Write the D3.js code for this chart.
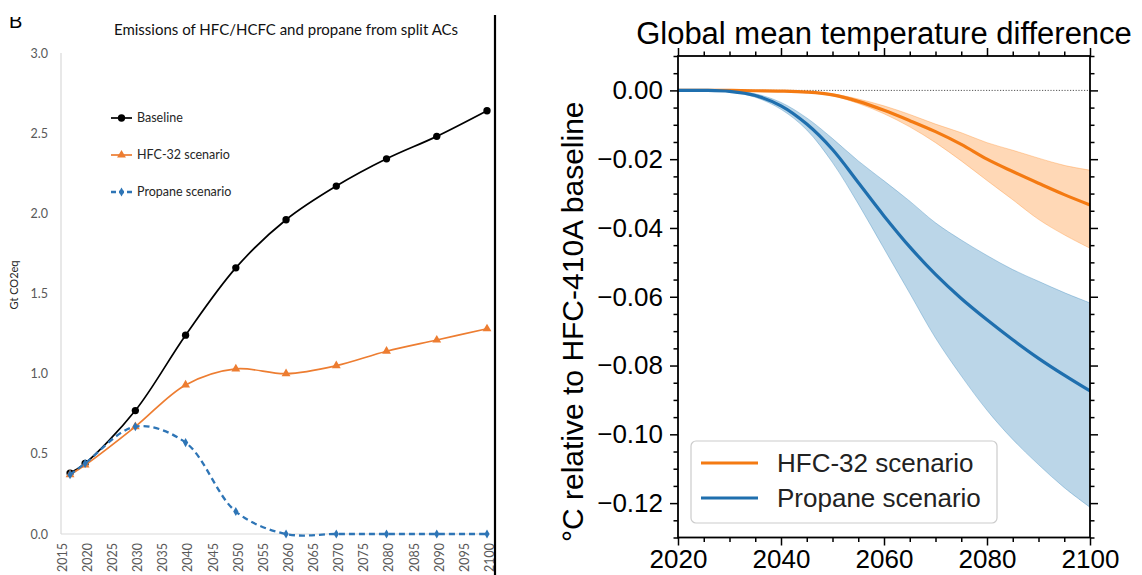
<!DOCTYPE html>
<html><head><meta charset="utf-8">
<script src="https://cdn.jsdelivr.net/npm/d3@7"></script>
<style>body{margin:0;background:#fff}svg{display:block}</style>
</head><body>
<svg id="c" width="1142" height="575"></svg>
<script>
// ---------- Left panel data (Gt CO2eq) ----------
const emisYears = [2017, 2020, 2030, 2040, 2050, 2060, 2070, 2080, 2090, 2100];
const baseline  = [0.38, 0.44, 0.77, 1.24, 1.66, 1.96, 2.17, 2.34, 2.48, 2.64];
const hfc32     = [0.37, 0.43, 0.67, 0.93, 1.03, 1.00, 1.05, 1.14, 1.21, 1.28];
const propane   = [0.37, 0.44, 0.67, 0.57, 0.14, 0.00, 0.00, 0.00, 0.00, 0.00];
const emisXTicks = [2015,2020,2025,2030,2035,2040,2045,2050,2055,2060,2065,2070,2075,2080,2085,2090,2095,2100];
const emisYTicks = [0, 0.5, 1.0, 1.5, 2.0, 2.5, 3.0];
const emisSeries = ["Baseline", "HFC-32 scenario", "Propane scenario"];

// ---------- Right panel data (°C relative to HFC-410A baseline) ----------
const tempYears   = [2020,2025,2030,2035,2040,2045,2050,2055,2060,2065,2070,2075,2080,2085,2090,2095,2100];
const hfcMean     = [0, 0, 0, -0.0001, -0.0002, -0.0005, -0.0013, -0.0032, -0.0058, -0.0088, -0.0120, -0.0157, -0.0200, -0.0236, -0.0270, -0.0303, -0.0333];
const hfcHi       = [0, 0, 0, -0.0001, -0.0002, -0.0004, -0.0010, -0.0025, -0.0045, -0.0070, -0.0098, -0.0123, -0.0152, -0.0174, -0.0197, -0.0218, -0.0232];
const hfcLo       = [0, 0, 0, -0.0001, -0.0003, -0.0006, -0.0016, -0.0038, -0.0068, -0.0106, -0.0152, -0.0205, -0.0262, -0.0318, -0.0375, -0.0420, -0.0459];
const propMean    = [0, 0, -0.0003, -0.0015, -0.0045, -0.0098, -0.0172, -0.0268, -0.0365, -0.0455, -0.0535, -0.0605, -0.0667, -0.0725, -0.0779, -0.0828, -0.0874];
const propHi      = [0, 0, -0.0002, -0.0010, -0.0035, -0.0080, -0.0140, -0.0205, -0.0263, -0.0322, -0.0385, -0.0435, -0.0480, -0.0521, -0.0555, -0.0588, -0.0618];
const propLo      = [0, 0, -0.0004, -0.0020, -0.0055, -0.0115, -0.0210, -0.0330, -0.0460, -0.0590, -0.0720, -0.0830, -0.0930, -0.1015, -0.1088, -0.1155, -0.1212];
const tempXTicks  = [2020, 2040, 2060, 2080, 2100];
const tempYTicks  = [0.00, -0.02, -0.04, -0.06, -0.08, -0.10, -0.12];
const tempSeries  = ["HFC-32 scenario", "Propane scenario"];

const svg = d3.select("#c");
const leftFont = "Lato, 'Open Sans', sans-serif";
const rightFont = "'Liberation Sans', Arial, sans-serif";

// ================= LEFT PANEL =================
const xL = d3.scaleLinear().domain([2015, 2100]).range([60, 487]);
const yL = d3.scaleLinear().domain([0, 3]).range([534, 53]);

// Panel letter (top clipped as in the source)
svg.append("defs").append("clipPath").attr("id","bclip")
  .append("rect").attr("x",0).attr("y",17).attr("width",60).attr("height",30);
svg.append("text").attr("x",9).attr("y",28).attr("clip-path","url(#bclip)")
  .attr("font-family","'Liberation Sans', Arial, sans-serif").attr("font-size",20)
  .attr("fill","#000").text("B");

svg.append("text").attr("x",286).attr("y",35).attr("text-anchor","middle")
  .attr("font-family",leftFont).attr("font-size",15).attr("fill","#111")
  .text("Emissions of HFC/HCFC and propane from split ACs");

// axis lines
svg.append("line").attr("x1",xL(2015)+1).attr("x2",xL(2015)+1).attr("y1",yL(3)).attr("y2",yL(0))
  .attr("stroke","#d9d9d9").attr("stroke-width",1.2);
svg.append("line").attr("x1",xL(2015)+1).attr("x2",xL(2100)+1).attr("y1",yL(0)).attr("y2",yL(0))
  .attr("stroke","#d9d9d9").attr("stroke-width",1.2);

const gyL = svg.append("g").attr("transform",`translate(${xL(2015)+1},0)`)
  .call(d3.axisLeft(yL).tickValues(emisYTicks).tickSize(0).tickPadding(13).tickFormat(d3.format(".1f")));
gyL.select(".domain").remove();
gyL.selectAll("text").attr("font-family",leftFont).attr("font-size",12.5).attr("fill","#595959");

const gxL = svg.append("g").attr("transform",`translate(0,${yL(0)})`)
  .call(d3.axisBottom(xL).tickValues(emisXTicks).tickSize(0).tickFormat(d3.format("d")));
gxL.select(".domain").remove();
gxL.selectAll("text").attr("transform","rotate(-90)").attr("text-anchor","end")
  .attr("x",-9).attr("y",2).attr("dy","0.35em")
  .attr("font-family",leftFont).attr("font-size",12.5).attr("fill","#595959");

svg.append("text").attr("transform","translate(18,285) rotate(-90)").attr("text-anchor","middle")
  .attr("font-family",leftFont).attr("font-size",11).attr("fill","#262626").text("Gt CO2eq");

function pts(vals){ return emisYears.map((y,i)=>({x:y, v:vals[i]})); }
const lineL = d3.line().x(d=>xL(d.x)).y(d=>yL(d.v)).curve(d3.curveCatmullRom.alpha(0.5));

const cBlack = "#000000", cOrange = "#ED7D31", cBlue = "#2E75B6";
const emisStyles = [
  {vals: baseline, color: cBlack, width: 1.7, dash: null, sym: d3.symbolCircle, size: 42},
  {vals: hfc32, color: cOrange, width: 1.7, dash: null, sym: d3.symbolTriangle, size: 34},
  {vals: propane, color: cBlue, width: 2.3, dash: "6,4", sym: d3.symbolDiamond, size: 24}
];
emisStyles.forEach(s=>{
  svg.append("path").attr("d", lineL(pts(s.vals))).attr("fill","none")
    .attr("stroke", s.color).attr("stroke-width", s.width).attr("stroke-dasharray", s.dash);
  svg.append("g").selectAll("path").data(pts(s.vals)).join("path")
    .attr("d", d3.symbol(s.sym, s.size)).attr("fill", s.color)
    .attr("transform", d=>`translate(${xL(d.x)},${yL(d.v)})`);
});

// legend
emisSeries.forEach((name,i)=>{
  const s = emisStyles[i], y = 118 + i*37;
  svg.append("line").attr("x1",111).attr("x2",132).attr("y1",y).attr("y2",y)
    .attr("stroke",s.color).attr("stroke-width",s.width).attr("stroke-dasharray", s.dash ? "5,3" : null);
  svg.append("path").attr("d", d3.symbol(s.sym, s.size)).attr("fill",s.color)
    .attr("transform",`translate(121.5,${y})`);
  svg.append("text").attr("x",137).attr("y",y).attr("dy","0.35em")
    .attr("font-family",leftFont).attr("font-size",12.5).attr("fill","#262626").text(name);
});

// separator
svg.append("line").attr("x1",495).attr("x2",495).attr("y1",15).attr("y2",575)
  .attr("stroke","#000").attr("stroke-width",2.2);

// ================= RIGHT PANEL =================
const L = 678, R = 1090, T = 56, B = 537.5;
const xR = d3.scaleLinear().domain([2020, 2100]).range([L, R]);
const yR = d3.scaleLinear().domain([-0.13, 0.01]).range([B, T]);

svg.append("text").attr("x",(L+R)/2).attr("y",44).attr("text-anchor","middle")
  .attr("font-family",rightFont).attr("font-size",31).attr("fill","#000")
  .text("Global mean temperature difference");

svg.append("defs").append("clipPath").attr("id","pclip")
  .append("rect").attr("x",L).attr("y",T).attr("width",R-L).attr("height",B-T);
const plot = svg.append("g").attr("clip-path","url(#pclip)");

// zero dotted line
plot.append("line").attr("x1",L).attr("x2",R).attr("y1",yR(0)).attr("y2",yR(0))
  .attr("stroke","#555").attr("stroke-width",1).attr("stroke-dasharray","1.2,1.6");

const area = d3.area().x(d=>xR(d.x)).y0(d=>yR(d.lo)).y1(d=>yR(d.hi)).curve(d3.curveCatmullRom.alpha(0.5));
const lineR = d3.line().x(d=>xR(d.x)).y(d=>yR(d.v)).curve(d3.curveCatmullRom.alpha(0.5));
const cO = "#ff7f0e", cB = "#1f77b4";
const tempStyles = [
  {mean: hfcMean, lo: hfcLo, hi: hfcHi, color: cO, line: "#f47a12"},
  {mean: propMean, lo: propLo, hi: propHi, color: cB, line: "#1f6fae"}
];
tempStyles.forEach(s=>{
  const d = tempYears.map((y,i)=>({x:y, lo:s.lo[i], hi:s.hi[i], v:s.mean[i]}));
  plot.append("path").attr("d", area(d)).attr("fill", s.color).attr("fill-opacity",0.3)
    .attr("stroke", s.color).attr("stroke-opacity",0.3).attr("stroke-width",1);
});
tempStyles.forEach(s=>{
  const d = tempYears.map((y,i)=>({x:y, v:s.mean[i]}));
  plot.append("path").attr("d", lineR(d)).attr("fill","none")
    .attr("stroke", s.line).attr("stroke-width",3.2);
});

// frame
svg.append("rect").attr("x",L).attr("y",T).attr("width",R-L).attr("height",B-T)
  .attr("fill","none").attr("stroke","#000").attr("stroke-width",1.8);

const yMinor = d3.range(-0.13, 0.0101, 0.005).filter(v => Math.abs(Math.round(v*1000)) % 20 !== 0);
const xMinor = d3.range(2020, 2101, 5).filter(v => v % 20 !== 0);

function styleAxis(g, labels){
  g.select(".domain").remove();
  g.selectAll("line").attr("stroke","#000").attr("stroke-width",1.5);
  g.selectAll("text").attr("font-family",rightFont).attr("font-size",labels ? 26 : 0).attr("fill","#000");
}
styleAxis(svg.append("g").attr("transform",`translate(${L},0)`)
  .call(d3.axisLeft(yR).tickValues(tempYTicks).tickSize(8).tickPadding(7).tickFormat(d3.format(".2f"))), true);
styleAxis(svg.append("g").attr("transform",`translate(${L},0)`)
  .call(d3.axisLeft(yR).tickValues(yMinor).tickSize(4.5).tickFormat("")), false);
styleAxis(svg.append("g").attr("transform",`translate(${R},0)`)
  .call(d3.axisRight(yR).tickValues(tempYTicks).tickSize(8).tickFormat("")), false);
styleAxis(svg.append("g").attr("transform",`translate(${R},0)`)
  .call(d3.axisRight(yR).tickValues(yMinor).tickSize(4.5).tickFormat("")), false);
styleAxis(svg.append("g").attr("transform",`translate(0,${B})`)
  .call(d3.axisBottom(xR).tickValues(tempXTicks).tickSize(8).tickPadding(4).tickFormat(d3.format("d"))), true);
styleAxis(svg.append("g").attr("transform",`translate(0,${B})`)
  .call(d3.axisBottom(xR).tickValues(xMinor).tickSize(4.5).tickFormat("")), false);
styleAxis(svg.append("g").attr("transform",`translate(0,${T})`)
  .call(d3.axisTop(xR).tickValues(tempXTicks).tickSize(8).tickFormat("")), false);
styleAxis(svg.append("g").attr("transform",`translate(0,${T})`)
  .call(d3.axisTop(xR).tickValues(xMinor).tickSize(4.5).tickFormat("")), false);

svg.append("text").attr("transform",`translate(583,${(T+B)/2+25}) rotate(-90)`).attr("text-anchor","middle")
  .attr("font-family",rightFont).attr("font-size",30).attr("fill","#000")
  .text("°C relative to HFC-410A baseline");

// legend
svg.append("rect").attr("x",691).attr("y",441).attr("width",306).attr("height",82).attr("rx",5)
  .attr("fill","#fff").attr("fill-opacity",0.8).attr("stroke","#ccc").attr("stroke-width",1.2);
tempSeries.forEach((name,i)=>{
  const y = 463 + i*35;
  svg.append("line").attr("x1",701).attr("x2",758).attr("y1",y).attr("y2",y)
    .attr("stroke", tempStyles[i].line).attr("stroke-width",3.2);
  svg.append("text").attr("x",777).attr("y",y).attr("dy","0.35em")
    .attr("font-family",rightFont).attr("font-size",26).attr("fill","#222").text(name);
});
</script>
</body></html>
